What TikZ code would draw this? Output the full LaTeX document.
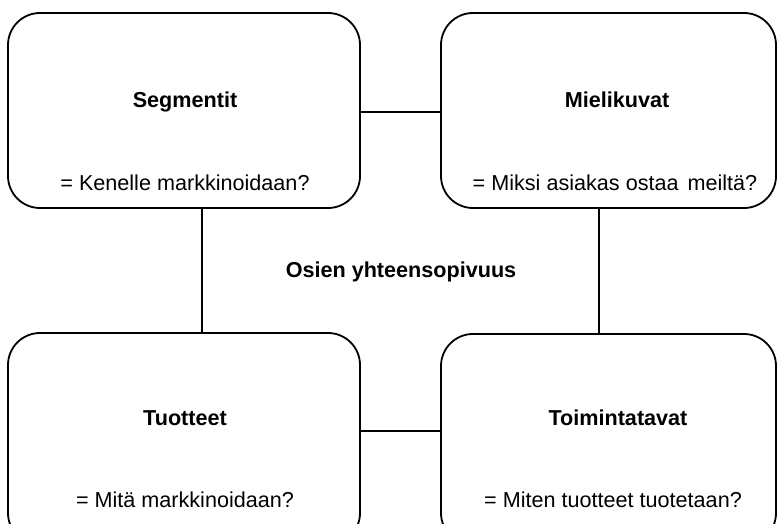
\documentclass[tikz,border=0pt]{standalone}
\usepackage{fontspec}
\setmainfont{Liberation Sans}
\begin{document}
\begin{tikzpicture}[x=1pt,y=-1pt,
  box/.style={draw=black,line width=1.8pt,rounded corners=32pt},
  lbl/.style={font=\fontsize{21.6}{24}\selectfont\bfseries,inner sep=0pt,anchor=base},
  sub/.style={font=\fontsize{21.6}{24}\selectfont,inner sep=0pt,anchor=base},
  conn/.style={draw=black,line width=1.6pt}]
\useasboundingbox (0,0) rectangle (782,524);
\begin{scope}
\clip (0,0) rectangle (782,524);
\draw[box] (8,13) rectangle (360,208);
\draw[box] (441,13) rectangle (776,208);
\draw[box] (8,333) rectangle (360,545);
\draw[box] (441,334) rectangle (776,545);
\coordinate (tlR) at (360,112);
\coordinate (trL) at (441,112);
\coordinate (blR) at (360,431);
\coordinate (brL) at (441,431);
\coordinate (tlB) at (202,208);
\coordinate (blT) at (202,333);
\coordinate (trB) at (599,208);
\coordinate (brT) at (599,334);
\draw[conn] (tlR) -- (trL);
\draw[conn] (blR) -- (brL);
\draw[conn] (tlB) -- (blT);
\draw[conn] (trB) -- (brT);
\end{scope}
\node[lbl] (seg) at (185,107.7) {Segmentit};
\node[sub] (segq) at (185,190) {= Kenelle markkinoidaan?};
\node[lbl] (mie) at (617,107.7) {Mielikuvat};
\node[sub] (mieq) at (615,190) {= Miksi asiakas ostaa\hspace{9pt}meiltä?};
\node[lbl] (osi) at (401,277) {Osien yhteensopivuus};
\node[lbl] (tuo) at (185,425.5) {Tuotteet};
\node[sub] (tuoq) at (185,507) {= Mitä markkinoidaan?};
\node[lbl] (toi) at (618,425.5) {Toimintatavat};
\node[sub] (toiq) at (613,507) {= Miten tuotteet tuotetaan?};
\end{tikzpicture}
\end{document}
